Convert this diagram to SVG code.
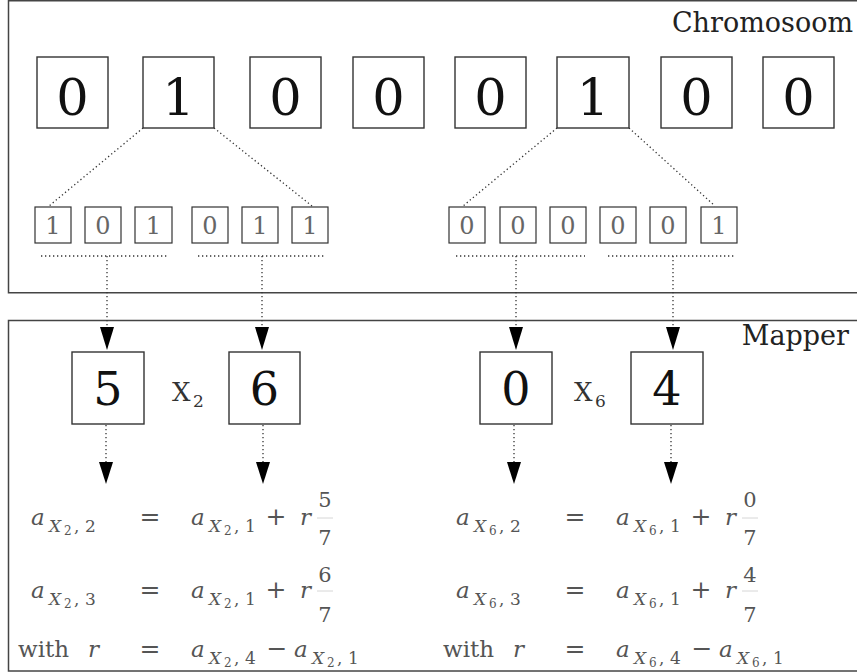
<svg xmlns="http://www.w3.org/2000/svg" width="857" height="672" viewBox="0 0 857 672" font-family="'DejaVu Serif', serif">
<defs>
<style>
.frame{fill:none;stroke:#444;stroke-width:1.5}
.box{fill:#fff;stroke:#333;stroke-width:1.4}
.sbox{fill:#fff;stroke:#333;stroke-width:1.2}
.dot{fill:none;stroke:#333;stroke-width:1.3;stroke-dasharray:1.3 2.7}
text{font-family:'DejaVu Serif',serif}
.big{font-size:51px;fill:#111;text-anchor:middle}
.mid{font-size:46px;fill:#111;text-anchor:middle}
.sm{font-size:24px;fill:#666;text-anchor:middle}
.lbl{fill:#222;text-anchor:end;font-size:27px}
.m{fill:#555}
.mi{font-style:italic;fill:#555}
.a{font-size:23px}
.w{font-size:23px}
.s1{font-size:17px}
.s2{font-size:12px}
.op{font-size:25px;text-anchor:middle}
.fr{font-size:21px;text-anchor:middle}
.bar{stroke:#ccc;stroke-width:0.8}
.head{fill:#000}
</style>
</defs>

<g id="chromosoom">
<rect class="frame" x="8.5" y="0.75" width="870" height="292"/>
<text class="lbl" x="853" y="32">Chromosoom</text>
</g>

<g id="mapper">
<rect class="frame" x="8.5" y="320.5" width="870" height="350.5"/>
<text class="lbl" x="849" y="345">Mapper</text>
</g>

<g id="genes">
<g id="g1"><rect class="box" x="37" y="57" width="71" height="71"/><text class="big" x="72.5" y="115">0</text></g>
<g id="g2"><rect class="box" x="143" y="57" width="71" height="71"/><text class="big" x="178.5" y="115">1</text></g>
<g id="g3"><rect class="box" x="250" y="57" width="71" height="71"/><text class="big" x="285.5" y="115">0</text></g>
<g id="g4"><rect class="box" x="353" y="57" width="71" height="71"/><text class="big" x="388.5" y="115">0</text></g>
<g id="g5"><rect class="box" x="455" y="57" width="71" height="71"/><text class="big" x="490.5" y="115">0</text></g>
<g id="g6"><rect class="box" x="557" y="57" width="72" height="71"/><text class="big" x="593" y="115">1</text></g>
<g id="g7"><rect class="box" x="661" y="57" width="71" height="71"/><text class="big" x="696.5" y="115">0</text></g>
<g id="g8"><rect class="box" x="763" y="57" width="71" height="71"/><text class="big" x="798.5" y="115">0</text></g>
</g>

<g id="bits">
<g id="b1"><rect class="sbox" x="35" y="207" width="36" height="36"/><text class="sm" x="53" y="234">1</text></g>
<g id="b2"><rect class="sbox" x="85" y="207" width="36" height="36"/><text class="sm" x="103" y="234">0</text></g>
<g id="b3"><rect class="sbox" x="135" y="207" width="37" height="36"/><text class="sm" x="153.5" y="234">1</text></g>
<g id="b4"><rect class="sbox" x="192" y="207" width="36" height="36"/><text class="sm" x="210" y="234">0</text></g>
<g id="b5"><rect class="sbox" x="242" y="207" width="36" height="36"/><text class="sm" x="260" y="234">1</text></g>
<g id="b6"><rect class="sbox" x="292" y="207" width="36" height="36"/><text class="sm" x="310" y="234">1</text></g>
<g id="b7"><rect class="sbox" x="449" y="207" width="36" height="36"/><text class="sm" x="467" y="234">0</text></g>
<g id="b8"><rect class="sbox" x="500" y="207" width="36" height="36"/><text class="sm" x="518" y="234">0</text></g>
<g id="b9"><rect class="sbox" x="550" y="207" width="36" height="36"/><text class="sm" x="568" y="234">0</text></g>
<g id="b10"><rect class="sbox" x="600" y="207" width="36" height="36"/><text class="sm" x="618" y="234">0</text></g>
<g id="b11"><rect class="sbox" x="650" y="207" width="36" height="36"/><text class="sm" x="668" y="234">0</text></g>
<g id="b12"><rect class="sbox" x="701" y="207" width="36" height="36"/><text class="sm" x="719" y="234">1</text></g>
</g>

<g id="values">
<g id="v5"><rect class="box" x="72" y="352" width="72" height="72"/><text class="mid" x="108" y="405">5</text></g>
<g id="v6"><rect class="box" x="229" y="352" width="71" height="72"/><text class="mid" x="264.5" y="405">6</text></g>
<g id="v0"><rect class="box" x="480" y="352" width="72" height="72"/><text class="mid" x="516" y="405">0</text></g>
<g id="v4"><rect class="box" x="631" y="352" width="72" height="72"/><text class="mid" x="667" y="405">4</text></g>
<g id="x2"><text fill="#333" x="172" y="401" font-size="26">X</text><text fill="#333" x="193" y="407" font-size="17">2</text></g>
<g id="x6"><text fill="#333" x="574" y="401" font-size="26">X</text><text fill="#333" x="595" y="407" font-size="17">6</text></g>
</g>

<g id="connectors">
<line class="dot" x1="143" y1="128" x2="49" y2="206"/>
<line class="dot" x1="214" y1="128" x2="312" y2="206"/>
<line class="dot" x1="557" y1="128" x2="463" y2="206"/>
<line class="dot" x1="629" y1="128" x2="715" y2="206"/>
<line class="dot" x1="41" y1="256" x2="168" y2="256"/>
<line class="dot" x1="198" y1="256" x2="326" y2="256"/>
<line class="dot" x1="456" y1="256" x2="585" y2="256"/>
<line class="dot" x1="608" y1="256" x2="735" y2="256"/>
<line class="dot" x1="107" y1="256" x2="107" y2="328"/>
<line class="dot" x1="262" y1="256" x2="262" y2="328"/>
<line class="dot" x1="516" y1="256" x2="516" y2="328"/>
<line class="dot" x1="673" y1="256" x2="673" y2="328"/>
<polygon class="head" points="100,327 114,327 107,350"/>
<polygon class="head" points="255,327 269,327 262,350"/>
<polygon class="head" points="509,327 523,327 516,350"/>
<polygon class="head" points="666,327 680,327 673,350"/>
<line class="dot" x1="106" y1="425" x2="106" y2="463"/>
<line class="dot" x1="263" y1="425" x2="263" y2="463"/>
<line class="dot" x1="514" y1="425" x2="514" y2="463"/>
<line class="dot" x1="671" y1="425" x2="671" y2="463"/>
<polygon class="head" points="99,462 113,462 106,484"/>
<polygon class="head" points="256,462 270,462 263,484"/>
<polygon class="head" points="507,462 521,462 514,484"/>
<polygon class="head" points="664,462 678,462 671,484"/>
</g>

<g id="equations-x2">
<g transform="translate(0,525)">
<text class="mi a" x="31" y="0">a</text><text class="mi s1" x="49" y="7">X</text><text class="m s2" x="64" y="10">2</text><text class="m s1" x="74" y="7">,</text><text class="m s1" x="85" y="7">2</text>
<text class="m op" x="150" y="0">=</text>
<text class="mi a" x="191" y="0">a</text><text class="mi s1" x="209" y="7">X</text><text class="m s2" x="224" y="10">2</text><text class="m s1" x="234" y="7">,</text><text class="m s1" x="245" y="7">1</text>
<text class="m op" x="276" y="0">+</text>
<text class="mi a" x="300" y="0">r</text>
<text class="m fr" x="325" y="-18">5</text><line class="bar" x1="317" y1="-7" x2="333" y2="-7"/><text class="m fr" x="325" y="20">7</text>
</g>
<g transform="translate(0,598)">
<text class="mi a" x="31" y="0">a</text><text class="mi s1" x="49" y="7">X</text><text class="m s2" x="64" y="10">2</text><text class="m s1" x="74" y="7">,</text><text class="m s1" x="85" y="7">3</text>
<text class="m op" x="150" y="0">=</text>
<text class="mi a" x="191" y="0">a</text><text class="mi s1" x="209" y="7">X</text><text class="m s2" x="224" y="10">2</text><text class="m s1" x="234" y="7">,</text><text class="m s1" x="245" y="7">1</text>
<text class="m op" x="276" y="0">+</text>
<text class="mi a" x="300" y="0">r</text>
<text class="m fr" x="325" y="-16">6</text><line class="bar" x1="317" y1="-7" x2="333" y2="-7"/><text class="m fr" x="325" y="24">7</text>
</g>
<g transform="translate(0,657)">
<text class="m w" x="18" y="0">with</text><text class="mi a" x="88" y="0">r</text>
<text class="m op" x="150" y="0">=</text>
<text class="mi a" x="191" y="0">a</text><text class="mi s1" x="209" y="7">X</text><text class="m s2" x="224" y="10">2</text><text class="m s1" x="234" y="7">,</text><text class="m s1" x="245" y="7">4</text>
<text class="m op" x="277" y="0">−</text>
<text class="mi a" x="294" y="0">a</text><text class="mi s1" x="312" y="7">X</text><text class="m s2" x="327" y="10">2</text><text class="m s1" x="337" y="7">,</text><text class="m s1" x="348" y="7">1</text>
</g>
</g>

<g id="equations-x6" transform="translate(425,0)">
<g transform="translate(0,525)">
<text class="mi a" x="31" y="0">a</text><text class="mi s1" x="49" y="7">X</text><text class="m s2" x="64" y="10">6</text><text class="m s1" x="74" y="7">,</text><text class="m s1" x="85" y="7">2</text>
<text class="m op" x="150" y="0">=</text>
<text class="mi a" x="191" y="0">a</text><text class="mi s1" x="209" y="7">X</text><text class="m s2" x="224" y="10">6</text><text class="m s1" x="234" y="7">,</text><text class="m s1" x="245" y="7">1</text>
<text class="m op" x="276" y="0">+</text>
<text class="mi a" x="300" y="0">r</text>
<text class="m fr" x="325" y="-18">0</text><line class="bar" x1="317" y1="-7" x2="333" y2="-7"/><text class="m fr" x="325" y="20">7</text>
</g>
<g transform="translate(0,598)">
<text class="mi a" x="31" y="0">a</text><text class="mi s1" x="49" y="7">X</text><text class="m s2" x="64" y="10">6</text><text class="m s1" x="74" y="7">,</text><text class="m s1" x="85" y="7">3</text>
<text class="m op" x="150" y="0">=</text>
<text class="mi a" x="191" y="0">a</text><text class="mi s1" x="209" y="7">X</text><text class="m s2" x="224" y="10">6</text><text class="m s1" x="234" y="7">,</text><text class="m s1" x="245" y="7">1</text>
<text class="m op" x="276" y="0">+</text>
<text class="mi a" x="300" y="0">r</text>
<text class="m fr" x="325" y="-16">4</text><line class="bar" x1="317" y1="-7" x2="333" y2="-7"/><text class="m fr" x="325" y="24">7</text>
</g>
<g transform="translate(0,657)">
<text class="m w" x="18" y="0">with</text><text class="mi a" x="88" y="0">r</text>
<text class="m op" x="150" y="0">=</text>
<text class="mi a" x="191" y="0">a</text><text class="mi s1" x="209" y="7">X</text><text class="m s2" x="224" y="10">6</text><text class="m s1" x="234" y="7">,</text><text class="m s1" x="245" y="7">4</text>
<text class="m op" x="277" y="0">−</text>
<text class="mi a" x="294" y="0">a</text><text class="mi s1" x="312" y="7">X</text><text class="m s2" x="327" y="10">6</text><text class="m s1" x="337" y="7">,</text><text class="m s1" x="348" y="7">1</text>
</g>
</g>
</svg>
